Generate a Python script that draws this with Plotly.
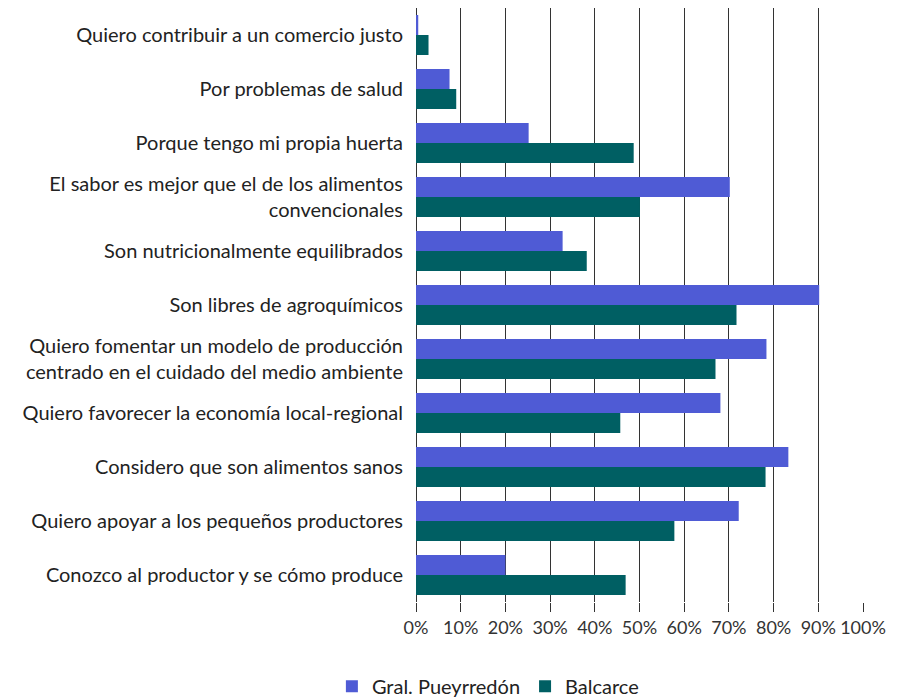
import plotly.graph_objects as go

categories = [
    "Quiero contribuir a un comercio justo",
    "Por problemas de salud",
    "Porque tengo mi propia huerta",
    "El sabor es mejor que el de los alimentos<br>convencionales",
    "Son nutricionalmente equilibrados",
    "Son libres de agroquímicos",
    "Quiero fomentar un modelo de producción<br>centrado en el cuidado del medio ambiente",
    "Quiero favorecer la economía local-regional",
    "Considero que son alimentos sanos",
    "Quiero apoyar a los pequeños productores",
    "Conozco al productor y se cómo produce",
]
gral_pueyrredon = [0.5, 7.5, 25.2, 70.2, 32.8, 90.2, 78.4, 68.1, 83.3, 72.2, 20.0]
balcarce = [2.8, 9.0, 48.7, 50.1, 38.2, 71.7, 67.0, 45.7, 78.2, 57.8, 46.9]
tick_vals = [0, 10, 20, 30, 40, 50, 60, 70, 80, 90, 100]
tick_text = ["0%", "10%", "20%", "30%", "40%", "50%", "60%", "70%", "80%", "90%", "100%"]

font_family = "Lato, 'Open Sans', sans-serif"

fig = go.Figure()
fig.add_trace(go.Bar(y=categories, x=gral_pueyrredon, orientation="h",
                     name="Gral. Pueyrredón", marker=dict(color="#4f5bd5", line=dict(width=0))))
fig.add_trace(go.Bar(y=categories, x=balcarce, orientation="h",
                     name="Balcarce", marker=dict(color="#005f63", line=dict(width=0))))

fig.update_layout(
    width=897, height=698,
    margin=dict(l=416, r=34, t=8, b=96),
    paper_bgcolor="white", plot_bgcolor="white",
    barmode="group", bargap=0.26, bargroupgap=0,
    font=dict(family=font_family, color="#222222", size=20),
    showlegend=True,
    legend=dict(orientation="h", xref="container", yref="container",
                x=0.37, y=0.017, xanchor="left", yanchor="middle",
                font=dict(size=20, color="#222222"), traceorder="normal",
                itemwidth=30),
)
fig.update_xaxes(
    range=[0, 100], tickvals=tick_vals, ticktext=tick_text, tickangle=0,
    showgrid=True, gridcolor="#333333", gridwidth=1,
    ticks="outside", ticklen=9, tickcolor="#333333", tickwidth=1,
    tickfont=dict(size=18, color="#333333"),
    showline=False, zeroline=True, zerolinecolor="#333333", zerolinewidth=1,
    fixedrange=True,
)
fig.update_yaxes(
    autorange="reversed", showgrid=False, ticks="", ticklabelstandoff=12,
    tickfont=dict(size=20, color="#222222"), showline=False,
)

fig.write_html("out.html")
